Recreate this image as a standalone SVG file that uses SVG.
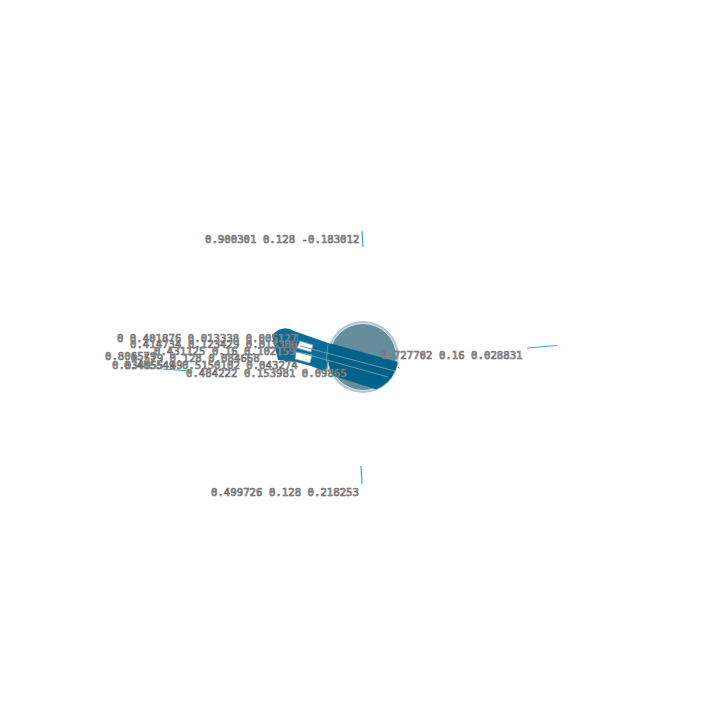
<svg xmlns="http://www.w3.org/2000/svg" width="720" height="720" viewBox="0 0 720 720">
<style>
text{font-family:"DejaVu Sans Mono",monospace;font-size:10.7px;fill:#f4f4f4;stroke:#666;stroke-width:.7px}
.thin{fill:none;stroke:#6d97a8;stroke-width:1}
.tick{fill:none;stroke:#3fa5c8;stroke-width:1.200}
</style>
<defs><clipPath id="ballClip"><circle cx="363" cy="357" r="35"/></clipPath></defs>
<rect width="720" height="720" fill="#fff"/>
<g id="ball">
<circle cx="363" cy="357" r="36" fill="#adc8d2"/>
<circle cx="363" cy="357" r="33.500" fill="#668d9b" stroke="#dbe7eb" stroke-width="1"/>
</g>
<g id="links">
<path d="M272 335Q283 324 294 331L331 344L326 372L311 366L296 362L278 360Z" fill="#0a6c98"/>
<path d="M300 341L313 345L311 352L297 348Z" fill="#fff" stroke="#7fa6b6" stroke-width=".8"/>
<path d="M296 352L312 355L310 363L295 359Z" fill="#fff" stroke="#7fa6b6" stroke-width=".8"/>
<path d="M325 342L402 363L384 392L322 372Z" fill="#00618a" clip-path="url(#ballClip)"/>
<path d="M163 369L190 371" class="tick"/>
</g>
<g id="connectors">
<path class="thin" d="M300 346L395 371M298 352L388 377"/>
<path d="M298 334L295 358M328 344Q325 358 328 372" fill="none" stroke="#6d97a8" stroke-width=".8"/>
<path class="tick" d="M362 231L363 247"/>
<path class="tick" d="M527 348L557 345.500"/>
<path class="tick" d="M361 466L362 484"/>
<path d="M398 367l1.500 1.500" stroke="#d06060" fill="none"/>
</g>
<g id="labels">
<text x="205" y="243">0.900301 0.128 -0.183012</text>
<text x="381" y="359">0.727702 0.16 0.028831</text>
<text x="211" y="496">0.499726 0.128 0.218253</text>
<text x="117" y="342">0 0.401876 0.013338 0.005127</text>
<text x="130" y="348">0.414734 0.123429 0.013306</text>
<text x="105" y="360">0.806579</text>
<text x="154" y="355">0.431125 0.16 0.102159</text>
<text x="131" y="362">0.579 0.128 0.084668</text>
<text x="112" y="369">0.034055 49</text>
<text x="124" y="369">0.405549 0.5150102 0.043274</text>
<text x="186" y="377">0.484222 0.153981 0.09865</text>
</g>
</svg>
